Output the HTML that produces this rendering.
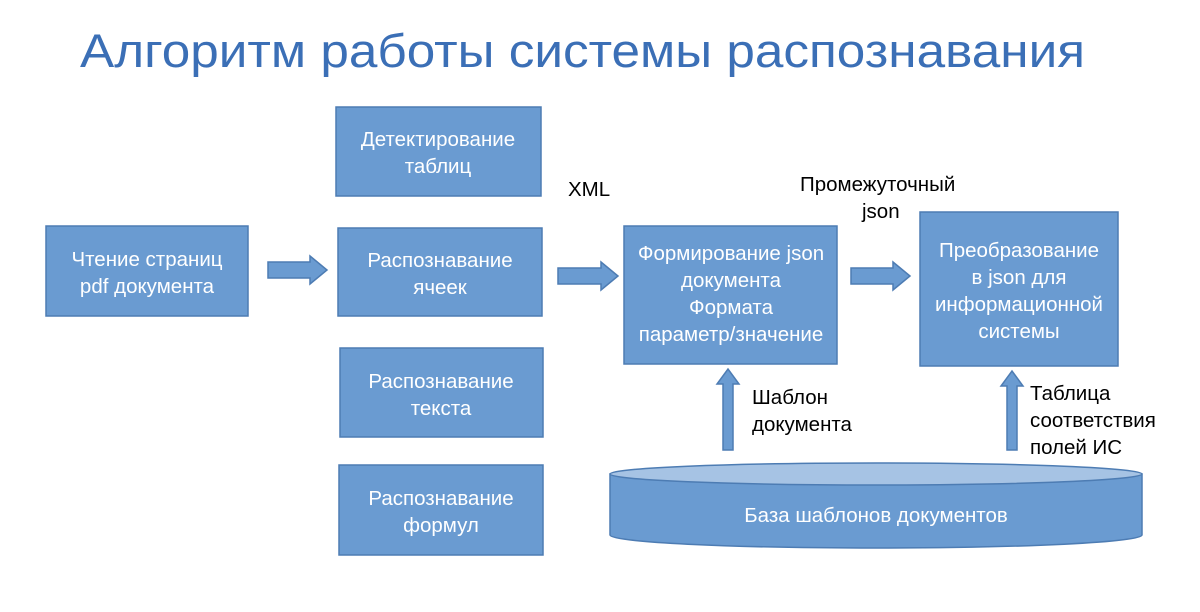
<!DOCTYPE html>
<html><head><meta charset="utf-8"><style>
body{margin:0;background:#fff;width:1200px;height:607px;overflow:hidden}
svg text{font-family:"Liberation Sans","DejaVu Sans",sans-serif}
</style></head><body>
<svg width="1200" height="607" viewBox="0 0 1200 607" xmlns="http://www.w3.org/2000/svg">
<text x="80" y="67" font-size="47" fill="#3b6fb6" textLength="1005" lengthAdjust="spacingAndGlyphs">Алгоритм работы системы распознавания</text>
<g fill="#6a9bd1" stroke="#4d7cb3" stroke-width="1.5">
<rect x="46" y="226" width="202" height="90"/>
<rect x="336" y="107" width="205" height="89"/>
<rect x="338" y="228" width="204" height="88"/>
<rect x="340" y="348" width="203" height="89"/>
<rect x="339" y="465" width="204" height="90"/>
<rect x="624" y="226" width="213" height="138"/>
<rect x="920" y="212" width="198" height="154"/>
<path d="M268 262H310V256L327 270L310 284V278H268Z"/>
<path d="M558 268H601V262L618 276L601 290V284H558Z"/>
<path d="M851 268H893V262L910 276L893 290V284H851Z"/>
<path d="M723 450V384H717L728 369L739 384H733V450Z"/>
<path d="M1007 450V386H1001L1012 371L1023 386H1017V450Z"/>
<path d="M610 474V535A266 13 0 0 0 1142 535V474Z"/>
<ellipse cx="876" cy="474" rx="266" ry="11" fill="#a6c3e4"/>
</g>
<g fill="#fff" font-size="20.5" text-anchor="middle">
<text x="147" y="266">Чтение страниц</text><text x="147" y="293">pdf документа</text>
<text x="438" y="146">Детектирование</text><text x="438" y="173">таблиц</text>
<text x="440" y="267">Распознавание</text><text x="440" y="294">ячеек</text>
<text x="441" y="388">Распознавание</text><text x="441" y="415">текста</text>
<text x="441" y="505">Распознавание</text><text x="441" y="532">формул</text>
<text x="731" y="260">Формирование json</text><text x="731" y="287">документа</text>
<text x="731" y="314">Формата</text><text x="731" y="341">параметр/значение</text>
<text x="1019" y="257">Преобразование</text><text x="1019" y="284">в json для</text>
<text x="1019" y="311">информационной</text><text x="1019" y="338">системы</text>
<text x="876" y="522">База шаблонов документов</text>
</g>
<g fill="#000" font-size="20.5">
<text x="568" y="196">XML</text>
<text x="800" y="191">Промежуточный</text>
<text x="862" y="218">json</text>
<text x="752" y="404">Шаблон</text><text x="752" y="431">документа</text>
<text x="1030" y="400">Таблица</text><text x="1030" y="427">соответствия</text><text x="1030" y="454">полей ИС</text>
</g>
</svg>
</body></html>
